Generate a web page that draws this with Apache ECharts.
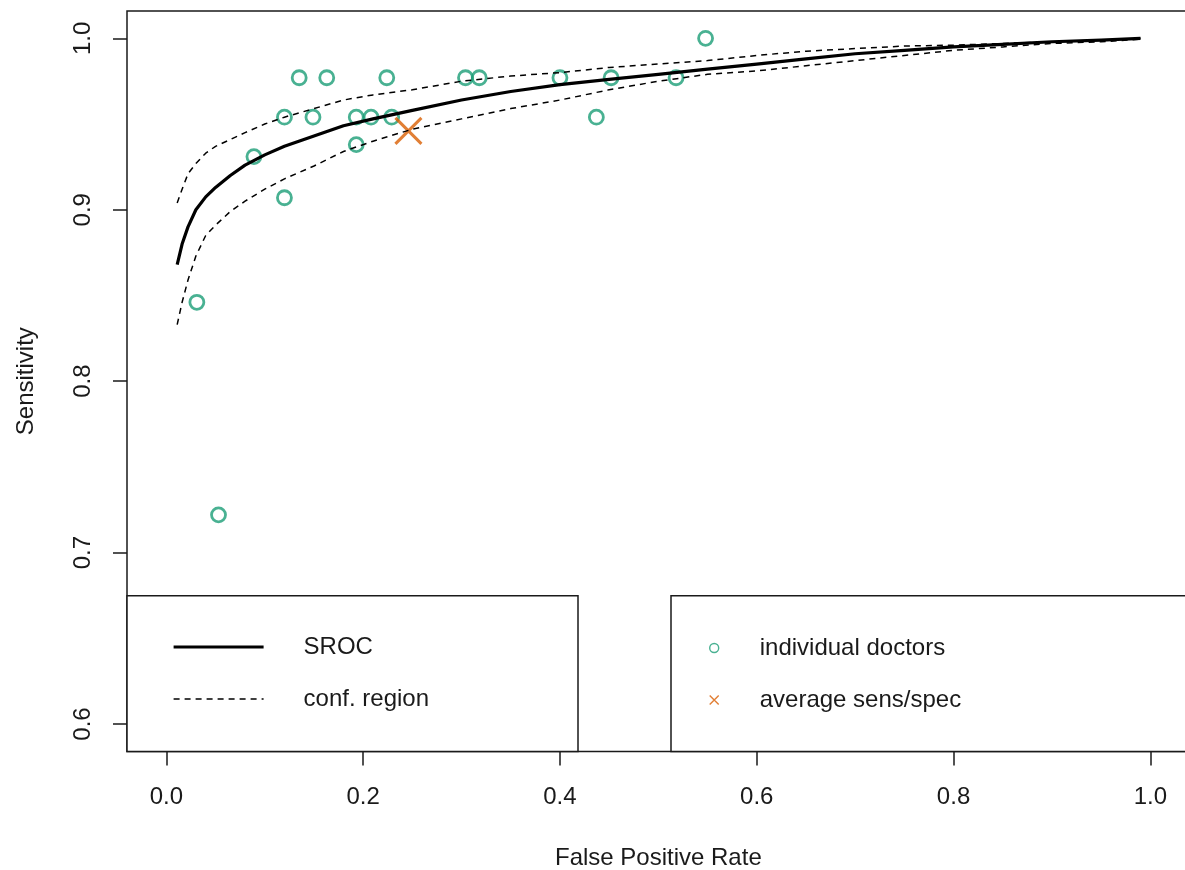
<!DOCTYPE html>
<html>
<head>
<meta charset="utf-8">
<script src="https://cdn.jsdelivr.net/npm/echarts@6/dist/echarts.min.js"></script>
<style>
  html, body { margin: 0; padding: 0; background: #fff; }
  #chart { width: 1185px; height: 870px; }
</style>
</head>
<body>
<div id="chart"></div>
<script>
// ---- data ----
const fprGrid   = [0.011, 0.016, 0.022, 0.03, 0.04, 0.05, 0.065, 0.08, 0.1, 0.12, 0.15, 0.18, 0.21, 0.25, 0.3, 0.35, 0.4, 0.45, 0.5, 0.55, 0.6, 0.65, 0.7, 0.75, 0.8, 0.85, 0.9, 0.95, 0.99];
const srocSens  = [0.868, 0.880, 0.890, 0.900, 0.9075, 0.913, 0.920, 0.926, 0.932, 0.937, 0.943, 0.949, 0.953, 0.958, 0.964, 0.969, 0.973, 0.976, 0.979, 0.982, 0.985, 0.988, 0.991, 0.993, 0.995, 0.9965, 0.998, 0.999, 1.000];
const confUpper = [0.904, 0.912, 0.921, 0.927, 0.933, 0.937, 0.941, 0.945, 0.950, 0.954, 0.959, 0.964, 0.967, 0.970, 0.975, 0.978, 0.980, 0.983, 0.985, 0.987, 0.990, 0.9925, 0.994, 0.9955, 0.996, 0.997, 0.998, 0.999, 1.000];
const confLower = [0.833, 0.846, 0.859, 0.873, 0.885, 0.891, 0.899, 0.905, 0.912, 0.918, 0.9255, 0.934, 0.940, 0.947, 0.953, 0.959, 0.964, 0.970, 0.975, 0.979, 0.981, 0.984, 0.987, 0.990, 0.993, 0.995, 0.997, 0.998, 0.9995];

const doctorFpr  = [0.031, 0.053, 0.089, 0.120, 0.120, 0.135, 0.149, 0.163, 0.193, 0.193, 0.208, 0.224, 0.229, 0.304, 0.318, 0.400, 0.437, 0.452, 0.518, 0.548];
const doctorSens = [0.846, 0.722, 0.931, 0.954, 0.907, 0.977, 0.954, 0.977, 0.954, 0.938, 0.954, 0.977, 0.954, 0.977, 0.977, 0.977, 0.954, 0.977, 0.977, 1.000];

const avgFpr  = [0.246];
const avgSens = [0.946];

const xTicks = [0.0, 0.2, 0.4, 0.6, 0.8, 1.0];
const yTicks = [0.6, 0.7, 0.8, 0.9, 1.0];

const legendLeftItems  = ['SROC', 'conf. region'];
const legendRightItems = ['individual doctors', 'average sens/spec'];

// ---- build ----
const zip = (xs, ys) => xs.map((x, i) => [x, ys[i]]);
const FONT = '"Liberation Sans", Arial, sans-serif';
const INK = '#1a1a1a';
const GREEN = '#1B9E77';
const ORANGE = '#D95F02';
const CROSS = 'path://M0,0L1,1M1,0L0,1';

const chart = echarts.init(document.getElementById('chart'), null, { renderer: 'canvas' });

const option = {
  animation: false,
  backgroundColor: '#ffffff',
  textStyle: { fontFamily: FONT },
  grid: {
    left: 127, top: 10.9, right: -4.7, bottom: 118.6,
    show: true, borderColor: INK, borderWidth: 1.5, backgroundColor: 'transparent',
    containLabel: false, outerBoundsMode: 'none'
  },
  xAxis: {
    type: 'value', min: -0.04, max: 1.04,
    name: 'False Positive Rate', nameLocation: 'middle', nameGap: 95, nameMoveOverlap: false,
    nameTextStyle: { fontFamily: FONT, fontSize: 24, color: INK },
    axisLine: { show: false, onZero: false },
    splitLine: { show: false },
    axisTick: { show: true, length: 14, customValues: xTicks, lineStyle: { color: INK, width: 1.5 } },
    axisLabel: { customValues: xTicks, margin: 34, fontFamily: FONT, fontSize: 24, color: INK,
                 formatter: v => Number(v).toFixed(1) }
  },
  yAxis: {
    type: 'value', min: 0.584, max: 1.016,
    name: 'Sensitivity', nameLocation: 'middle', nameGap: 89, nameMoveOverlap: false,
    nameTextStyle: { fontFamily: FONT, fontSize: 24, color: INK },
    axisLine: { show: false, onZero: false },
    splitLine: { show: false },
    axisTick: { show: true, length: 14, customValues: yTicks, lineStyle: { color: INK, width: 1.5 } },
    axisLabel: { customValues: yTicks, margin: 32, rotate: 90, fontFamily: FONT, fontSize: 24, color: INK,
                 formatter: v => Number(v).toFixed(1) }
  },
  legend: [
    {
      orient: 'vertical', left: 172, top: 635, itemGap: 28, padding: 0,
      itemWidth: 90, itemHeight: 24, selectedMode: false,
      textStyle: { fontFamily: FONT, fontSize: 24, color: INK, padding: [0, 0, 0, 35] },
      data: [
        { name: legendLeftItems[0], itemStyle: { opacity: 0 }, lineStyle: { width: 3.2, type: 'solid', color: '#000' } },
        { name: legendLeftItems[1], itemStyle: { opacity: 0 }, lineStyle: { width: 1.5, type: [6, 5], color: '#000' } }
      ]
    },
    {
      orient: 'vertical', left: 709, top: 636, itemGap: 28, padding: 0,
      itemWidth: 9, itemHeight: 9, selectedMode: false,
      textStyle: { fontFamily: FONT, fontSize: 24, color: INK, padding: [0, 0, 0, 36] },
      data: [
        { name: legendRightItems[0], itemStyle: { borderWidth: 1.4, color: 'rgba(0,0,0,0)', borderColor: GREEN } },
        { name: legendRightItems[1], itemStyle: { borderWidth: 1.4, color: 'rgba(0,0,0,0)', borderColor: ORANGE } }
      ]
    }
  ],
  graphic: [
    { type: 'rect', z: 3, silent: true,
      shape: { x: 127, y: 595.7, width: 451, height: 155.7 },
      style: { fill: '#fff', stroke: INK, lineWidth: 1.5 } },
    { type: 'rect', z: 3, silent: true,
      shape: { x: 671, y: 595.7, width: 600, height: 155.7 },
      style: { fill: '#fff', stroke: INK, lineWidth: 1.5 } }
  ],
  series: [
    {
      name: 'conf. region', type: 'line', data: zip(fprGrid, confUpper),
      symbol: 'none', smooth: false, silent: true,
      lineStyle: { color: '#000', width: 1.5, type: [6, 5] }, itemStyle: { color: '#000' }
    },
    {
      name: 'conf. region', type: 'line', data: zip(fprGrid, confLower),
      symbol: 'none', smooth: false, silent: true,
      lineStyle: { color: '#000', width: 1.5, type: [6, 5] }, itemStyle: { color: '#000' }
    },
    {
      name: 'SROC', type: 'line', data: zip(fprGrid, srocSens),
      symbol: 'none', smooth: false, silent: true,
      lineStyle: { color: '#000', width: 3.2, join: 'round', cap: 'butt' }, itemStyle: { color: '#000' }
    },
    {
      name: 'individual doctors', type: 'scatter', data: zip(doctorFpr, doctorSens),
      symbol: 'circle', symbolSize: 14, silent: true,
      itemStyle: { color: 'rgba(0,0,0,0)', borderColor: GREEN, borderWidth: 2.8 }
    },
    {
      name: 'average sens/spec', type: 'scatter', data: zip(avgFpr, avgSens),
      symbol: CROSS, symbolSize: 26, silent: true,
      itemStyle: { color: 'rgba(0,0,0,0)', borderColor: ORANGE, borderWidth: 3 }
    }
  ]
};

chart.setOption(option);
</script>
</body>
</html>
